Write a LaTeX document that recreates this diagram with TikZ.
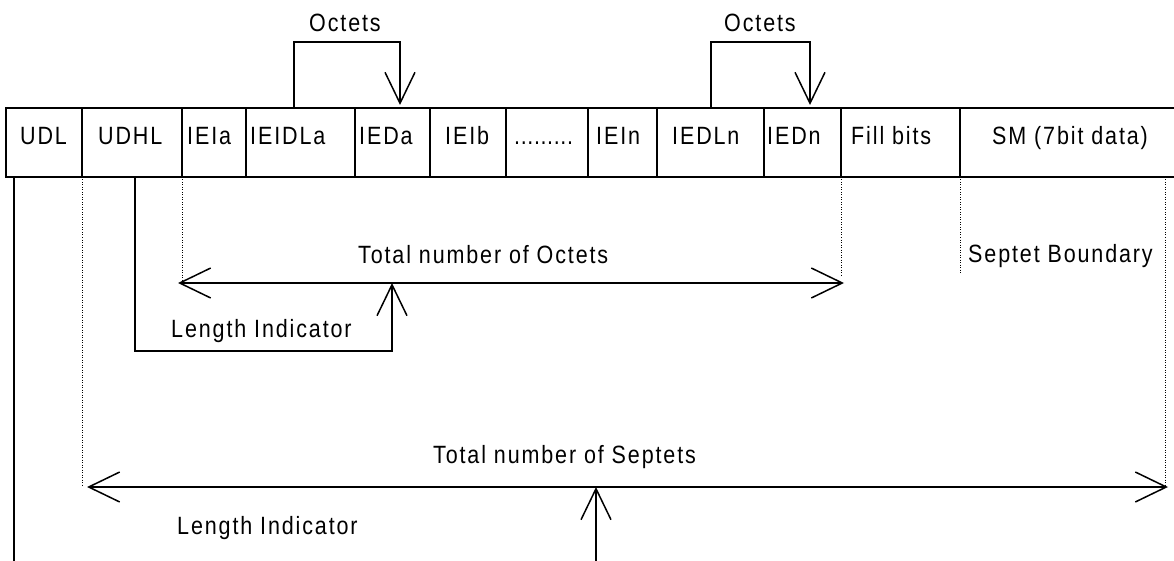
\documentclass[tikz,border=0pt]{standalone}
\usepackage{fontspec}
\setmainfont{Liberation Sans}[FakeStretch=0.86, LetterSpace=7.5]
\usetikzlibrary{arrows.meta}
\tikzset{
  cell/.style={draw, line width=1.5pt, minimum height=69pt, inner sep=0pt, outer sep=0pt, anchor=north west},
  lbl/.style={anchor=base west, inner sep=0pt, font=\fontsize{25}{30}\selectfont},
  conn/.style={line width=1.5pt},
  guide/.style={line width=1pt, dash pattern=on 1pt off 1.5pt},
  vee/.style={-{Straight Barb[length=31pt,width=30pt,line width=1.5pt]}},
  veeboth/.style={{Straight Barb[length=31pt,width=30pt,line width=1.5pt]}-{Straight Barb[length=31pt,width=30pt,line width=1.5pt]}}
}
\begin{document}
\begin{tikzpicture}[x=1pt, y={(0pt,-1pt)}]
\useasboundingbox (0,0) rectangle (1174,561);
% cells
\node[cell, minimum width=76pt]  (udl)   at (6,108)   {};
\node[cell, minimum width=100pt] (udhl)  at (82,108)  {};
\node[cell, minimum width=64pt]  (ieia)  at (182,108) {};
\node[cell, minimum width=109pt] (ieidla) at (246,108) {};
\node[cell, minimum width=75pt]  (ieda)  at (355,108) {};
\node[cell, minimum width=76pt]  (ieib)  at (430,108) {};
\node[cell, minimum width=82pt]  (dots)  at (506,108) {};
\node[cell, minimum width=69pt]  (iein)  at (588,108) {};
\node[cell, minimum width=107pt] (iedln) at (657,108) {};
\node[cell, minimum width=77pt]  (iedn)  at (764,108) {};
\node[cell, minimum width=119pt] (fill)  at (841,108) {};
\coordinate (smtr) at (1176,108);
\coordinate (smbr) at (1176,177);
\draw[line width=1.5pt] (fill.north east) -- (smtr);
\draw[line width=1.5pt] (fill.south east) -- (smbr);
% cell labels
\node[lbl] (tudl)   at (20,145)  {UDL};
\node[lbl] (tudhl)  at (98,145)  {UDHL};
\node[lbl] (tieia)  at (187,145) {IEIa};
\node[lbl] (tieidla) at (250,145) {IEIDLa};
\node[lbl] (tieda)  at (359,145) {IEDa};
\node[lbl] (tieib)  at (445,145) {IEIb};
\node[lbl] (tdots)  at (514,145) {\addfontfeature{LetterSpace=2.5}.........};
\node[lbl] (tiein)  at (596,145) {IEIn};
\node[lbl] (tiedln) at (672,145) {IEDLn};
\node[lbl] (tiedn)  at (767,145) {IEDn};
\node[lbl] (tfill)  at (851,145) {Fill bits};
\node[lbl] (tsm)    at (992,145) {SM (7bit data)};
% Octets brackets
\coordinate (o1a) at (294,108);
\coordinate (o1b) at (294,42);
\coordinate (o1c) at (400,42);
\coordinate (o1d) at (400,105);
\draw[conn, vee] (o1a) -- (o1b) -- (o1c) -- (o1d);
\node[lbl] (oct1) at (309,32) {Octets};
\coordinate (o2a) at (711,108);
\coordinate (o2b) at (711,42);
\coordinate (o2c) at (810,42);
\coordinate (o2d) at (810,105);
\draw[conn, vee] (o2a) -- (o2b) -- (o2c) -- (o2d);
\node[lbl] (oct2) at (724,32) {Octets};
% guides
\coordinate (g1a) at (82,177);   \coordinate (g1b) at (82,487);
\coordinate (g2a) at (182,177);  \coordinate (g2b) at (182,283);
\coordinate (g3a) at (841,177);  \coordinate (g3b) at (841,275);
\coordinate (g4a) at (960,177);  \coordinate (g4b) at (960,274);
\coordinate (g5a) at (1165,177); \coordinate (g5b) at (1165,487);
\draw[guide] (g1a) -- (g1b);
\draw[guide] (g2a) -- (g2b);
\draw[guide] (g3a) -- (g3b);
\draw[guide] (g4a) -- (g4b);
\draw[guide] (g5a) -- (g5b);
% UDL line
\coordinate (u1a) at (14,177);
\coordinate (u1b) at (14,561);
\draw[conn] (u1a) -- (u1b);
% total octets arrow
\coordinate (toL) at (178,283);
\coordinate (toR) at (844,283);
\draw[conn, veeboth] (toL) -- (toR);
\node[lbl] (ttoct) at (358,263) {Total number of Octets};
% UDHL length indicator
\coordinate (h1) at (135,177);
\coordinate (h2) at (135,351);
\coordinate (h3) at (392,351);
\coordinate (h4) at (392,283);
\draw[conn, vee] (h1) -- (h2) -- (h3) -- (h4);
\node[lbl] (li1) at (171,337) {Length Indicator};
% septet boundary
\node[lbl] (tsb) at (968,262) {Septet Boundary};
% total septets arrow
\coordinate (tsL) at (87,487);
\coordinate (tsR) at (1168,487);
\draw[conn, veeboth] (tsL) -- (tsR);
\node[lbl] (ttsep) at (433,463) {Total number of Septets};
% UDL length indicator arrow
\coordinate (v1) at (596,561);
\coordinate (v2) at (596,487);
\draw[conn, vee] (v1) -- (v2);
\node[lbl] (li2) at (177,534) {Length Indicator};
\end{tikzpicture}
\end{document}
